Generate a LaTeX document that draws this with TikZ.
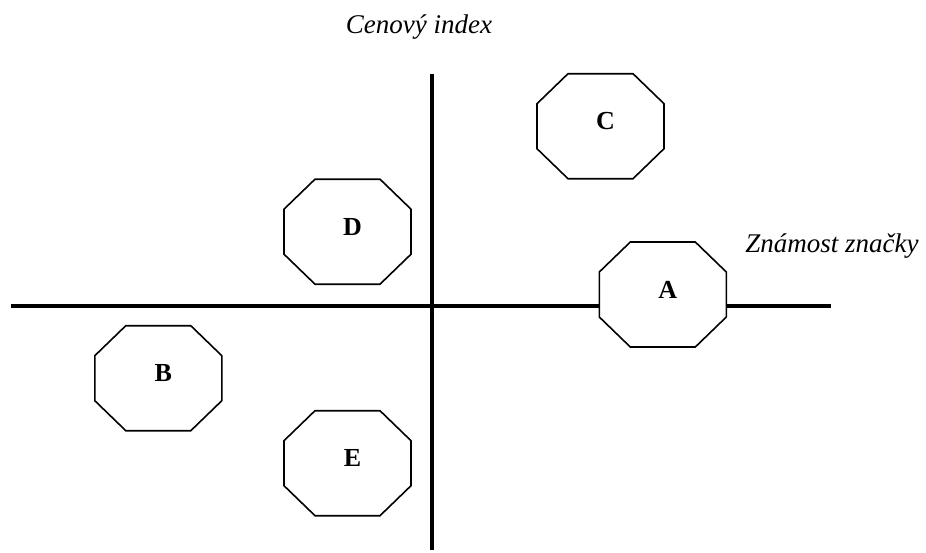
\documentclass[tikz,border=0pt]{standalone}
\usepackage{fontspec}
\setmainfont{Liberation Serif}
\usetikzlibrary{calc}
\begin{document}
\begin{tikzpicture}[x=1pt,y=-1pt,
  axis/.style={line width=4pt},
  octo/.style={line width=1.6pt, fill=white, line join=miter},
  lbl/.style={font=\fontsize{26}{30}\selectfont\bfseries, inner sep=0pt},
  axlbl/.style={font=\fontsize{27}{32}\selectfont\itshape, inner sep=0pt}]
\useasboundingbox (0,0) rectangle (926,552);
\newcommand\octag[4]{%
  \coordinate (#3) at (#1,#2);
  \draw[octo] ($(#3)+(-32.5,-52.5)$) -- ($(#3)+(32.5,-52.5)$) -- ($(#3)+(63.5,-22.5)$) -- ($(#3)+(63.5,22.5)$) -- ($(#3)+(32.5,52.5)$) -- ($(#3)+(-32.5,52.5)$) -- ($(#3)+(-63.5,22.5)$) -- ($(#3)+(-63.5,-22.5)$) -- cycle;
  \node[lbl] (#3lab) at ($(#3)+(5,-5)$) {#4};}
% axes
\coordinate (xl) at (10.5,305.5);
\coordinate (xr) at (831,305.5);
\coordinate (yt) at (431.7,74);
\coordinate (yb) at (431.7,550);
\draw[axis] (xl) -- (xr);
\draw[axis] (yt) -- (yb);
\node[axlbl] (ylab) at (419,27) {Cenový index};
\node[axlbl] (xlab) at (832,246) {Známost značky};
% octagons
\octag{600.5}{126.2}{oc}{C}
\octag{347.5}{231.7}{od}{D}
\octag{662.8}{294.5}{oa}{A}
\octag{158.3}{378.2}{ob}{B}
\octag{347.5}{463.2}{oe}{E}
\end{tikzpicture}
\end{document}
